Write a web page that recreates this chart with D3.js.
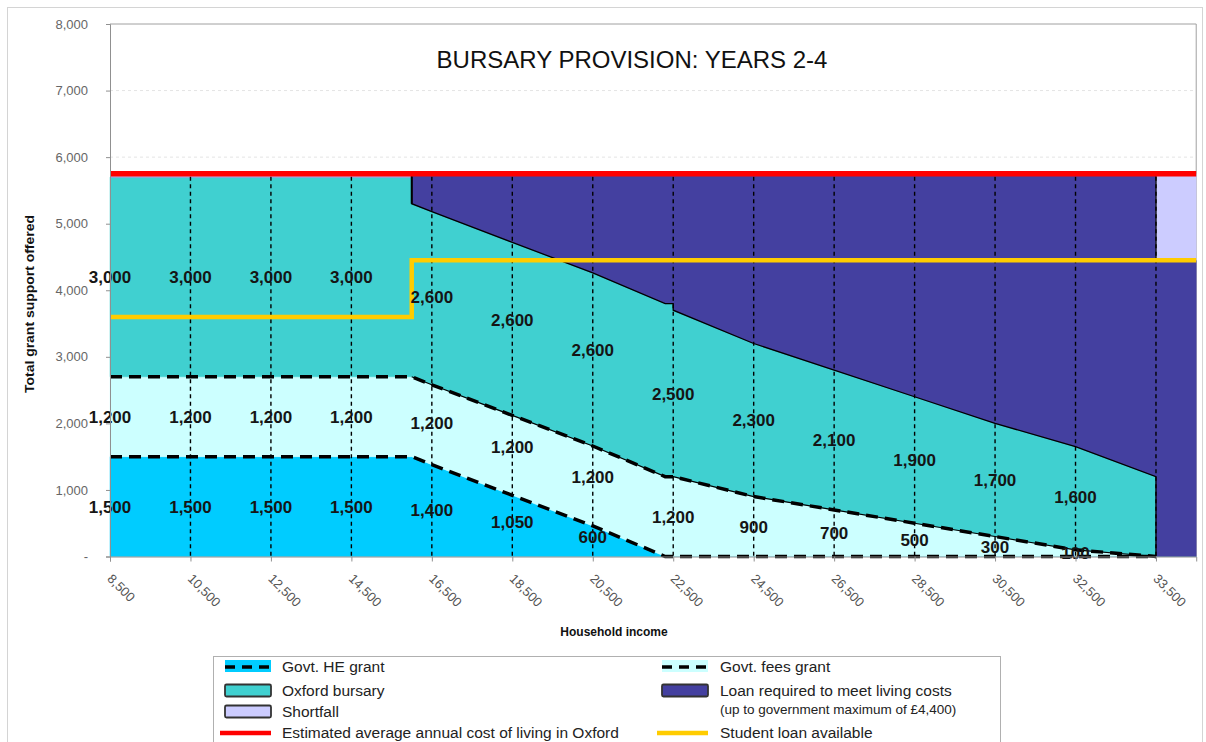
<!DOCTYPE html>
<html>
<head>
<meta charset="utf-8">
<script src="https://cdn.jsdelivr.net/npm/d3@7"></script>
<style>
  body { margin: 0; background: #fff; }
  svg { display: block; font-family: Arial, "Liberation Sans", sans-serif; }
</style>
</head>
<body>
<svg width="1206" height="742"></svg>
<script>
// category ticks on the x axis (household income)
const incomes = [8500, 10500, 12500, 14500, 16500, 18500, 20500, 22500, 24500, 26500, 28500, 30500, 32500, 33500];

// data labels printed in each band
const heLabels      = [1500, 1500, 1500, 1500, 1400, 1050, 600, null, null, null, null, null, null, null];
const feesLabels    = [1200, 1200, 1200, 1200, 1200, 1200, 1200, 1200, 900, 700, 500, 300, 100, null];
const bursaryLabels = [3000, 3000, 3000, 3000, 2600, 2600, 2600, 2500, 2300, 2100, 1900, 1700, 1600, null];

// band shapes at these incomes
const knotIncome = [8500, 16000, 16000, 16500, 18500, 20500, 22300, 22500, 22500, 24500, 26500, 28500, 30500, 32500, 33500, 33500, 34000];
const heGrant    = [1500, 1500, 1500, 1380, 920, 460, 0, 0, 0, 0, 0, 0, 0, 0, 0, 0, 0];
const feesGrant  = [1200, 1200, 1200, 1200, 1200, 1200, 1200, 1200, 1200, 900, 700, 500, 300, 100, 0, 0, 0];
const bursary    = [3000, 3000, 2600, 2600, 2600, 2600, 2600, 2600, 2500, 2300, 2100, 1900, 1700, 1550, 1200, 0, 0];
const loan       = [0, 0, 450, 570, 1030, 1490, 1950, 1950, 2050, 2550, 2950, 3350, 3750, 4100, 4550, 4450, 4450];
const shortfall  = [0, 0, 0, 0, 0, 0, 0, 0, 0, 0, 0, 0, 0, 0, 0, 1300, 1300];

// reference lines
const costOfLiving = 5750;
const loanIncome = [8500, 16000, 16000, 34000];
const loanAvailable = [3600, 3600, 4450, 4450];

const yTicks = [0, 1000, 2000, 3000, 4000, 5000, 6000, 7000, 8000];

const colors = {
  he: "#00ccff",
  fees: "#ccffff",
  bursary: "#40d0d0",
  loan: "#4440a0",
  shortfall: "#ccccff",
  red: "#ff0000",
  yellow: "#ffcc00"
};

const svg = d3.select("svg");

// outer chart frame
svg.append("rect")
  .attr("x", 7.5).attr("y", 7.5)
  .attr("width", 1195).attr("height", 760)
  .attr("fill", "none")
  .attr("stroke", "#d4d4d4");

const step = 80.46;
const x = d3.scaleLinear()
  .domain([8500, 32500, 34000])
  .range([110, 110 + 12 * step, 110 + 13.5 * step]);

const y = d3.scaleLinear()
  .domain([0, 8000])
  .range([556.5, 24]);

const plot = svg.append("g");

// faint horizontal gridlines
plot.selectAll("line.grid")
  .data(yTicks.filter(d => d > 0 && d < 8000))
  .join("line")
  .attr("class", "grid")
  .attr("x1", x(8500)).attr("x2", x(34000))
  .attr("y1", d => y(d)).attr("y2", d => y(d))
  .attr("stroke", "#e4e4e4")
  .attr("stroke-dasharray", "3,3");

// plot border (top & right)
plot.append("path")
  .attr("d", `M${x(8500)},${y(8000)}H${x(34000)}V${y(0)}`)
  .attr("fill", "none")
  .attr("stroke", "#a0a0a0");

// stacked bands
const rows = knotIncome.map((inc, i) => ({
  income: inc,
  he: heGrant[i],
  fees: feesGrant[i],
  bursary: bursary[i],
  loan: loan[i],
  shortfall: shortfall[i]
}));

const keys = ["he", "fees", "bursary", "loan", "shortfall"];
const stacked = d3.stack().keys(keys)(rows);

const area = d3.area()
  .x(d => x(d.data.income))
  .y0(d => y(d[0]))
  .y1(d => y(d[1]));

plot.selectAll("path.band")
  .data(stacked)
  .join("path")
  .attr("class", "band")
  .attr("d", area)
  .attr("fill", d => colors[d.key])
  .attr("stroke", d => colors[d.key])
  .attr("stroke-width", 0.5);

const line = d3.line()
  .x(d => x(d.data.income))
  .y(d => y(d[1]));

const heLayer = stacked[0], feesLayer = stacked[1], bursLayer = stacked[2];

// bursary outline (thin solid)
plot.append("path")
  .attr("d", line(bursLayer.slice(1, 16)))
  .attr("fill", "none").attr("stroke", "#000").attr("stroke-width", 1.3);
plot.append("path")
  .attr("d", line(feesLayer.slice(1, 15)))
  .attr("fill", "none").attr("stroke", "#000").attr("stroke-width", 1.2);

// vertical edges of loan and shortfall
const edge = (p, w) => plot.append("line")
  .attr("x1", x(p.data.income)).attr("x2", x(p.data.income))
  .attr("y1", y(p[0])).attr("y2", y(p[1]))
  .attr("stroke", "#000").attr("stroke-width", w);
edge(stacked[3][2], 2);
edge(stacked[4][15], 1.3);

// category dashed gridlines
plot.selectAll("line.vgrid")
  .data(incomes.slice(1))
  .join("line")
  .attr("class", "vgrid")
  .attr("x1", d => x(d)).attr("x2", d => x(d))
  .attr("y1", y(costOfLiving) + 3).attr("y2", y(0))
  .attr("stroke", "#000")
  .attr("stroke-width", 1.4)
  .attr("stroke-dasharray", "4,3.5");

// govt grant dashed boundaries
plot.append("path")
  .attr("d", line(heLayer.slice(0, 15)))
  .attr("fill", "none").attr("stroke", "#000")
  .attr("stroke-width", 3.5).attr("stroke-dasharray", "12,7");
plot.append("path")
  .attr("d", line(feesLayer.slice(0, 15)))
  .attr("fill", "none").attr("stroke", "#000")
  .attr("stroke-width", 3.5).attr("stroke-dasharray", "12,7");

// student loan available
plot.append("path")
  .attr("d", d3.line().x(d => x(d[0])).y(d => y(d[1]))(loanIncome.map((v, i) => [v, loanAvailable[i]])))
  .attr("fill", "none").attr("stroke", colors.yellow).attr("stroke-width", 4.5);

// cost of living
plot.append("line")
  .attr("x1", x(8500)).attr("x2", x(34000))
  .attr("y1", y(costOfLiving)).attr("y2", y(costOfLiving))
  .attr("stroke", colors.red).attr("stroke-width", 5.5);

// data labels
const labelRows = incomes.map((inc, i) => {
  const he = heLabels[i] || 0, fe = feesLabels[i] || 0, bu = bursaryLabels[i] || 0;
  return [
    { income: inc, v: heLabels[i], mid: he / 2 },
    { income: inc, v: feesLabels[i], mid: he + fe / 2 },
    { income: inc, v: bursaryLabels[i], mid: he + fe + bu / 2 }
  ];
}).flat().filter(d => d.v != null);

const fmt = d3.format(",");
plot.selectAll("text.lbl")
  .data(labelRows)
  .join("text")
  .attr("class", "lbl")
  .attr("x", d => x(d.income))
  .attr("y", d => y(d.mid))
  .attr("dy", "0.36em")
  .attr("text-anchor", "middle")
  .attr("font-size", 17)
  .attr("font-weight", "bold")
  .attr("fill", "#151515")
  .text(d => fmt(d.v));

// y axis
const yAxis = svg.append("g")
  .attr("transform", `translate(${x(8500)},0)`)
  .call(d3.axisLeft(y).tickValues(yTicks).tickSize(4).tickPadding(18)
    .tickFormat(d => d === 0 ? "-" : fmt(d)));
yAxis.select(".domain").attr("stroke", "#909090");
yAxis.selectAll(".tick line").attr("stroke", "#909090");
yAxis.selectAll("text")
  .attr("font-size", 13)
  .attr("font-family", "Arial, 'Liberation Sans', sans-serif")
  .attr("fill", "#666");

// x axis
const xAxis = svg.append("g")
  .attr("transform", `translate(0,${y(0)})`)
  .call(d3.axisBottom(x).tickValues(incomes).tickSize(5).tickFormat(fmt));
xAxis.select(".domain").attr("stroke", "#909090");
xAxis.selectAll(".tick line").attr("stroke", "#909090");
xAxis.selectAll("text")
  .attr("x", 0).attr("y", 0).attr("dy", 0)
  .attr("transform", "translate(-4,23) rotate(45)")
  .attr("text-anchor", "start")
  .attr("font-size", 13)
  .attr("font-family", "Arial, 'Liberation Sans', sans-serif")
  .attr("fill", "#555");

// titles
svg.append("text")
  .attr("x", 632).attr("y", 68)
  .attr("text-anchor", "middle")
  .attr("font-size", 24)
  .attr("fill", "#111")
  .text("BURSARY PROVISION: YEARS 2-4");

svg.append("text")
  .attr("x", 614).attr("y", 636)
  .attr("text-anchor", "middle")
  .attr("font-size", 12)
  .attr("font-weight", "bold")
  .attr("fill", "#111")
  .text("Household income");

svg.append("text")
  .attr("transform", "translate(34,304) rotate(-90)")
  .attr("text-anchor", "middle")
  .attr("font-size", 12.5)
  .attr("font-weight", "bold")
  .attr("fill", "#111")
  .attr("textLength", 178)
  .attr("lengthAdjust", "spacingAndGlyphs")
  .text("Total grant support offered");

// legend
const legendItems = [
  { label: "Govt. HE grant", kind: "dash", color: colors.he, col: 0, row: 0 },
  { label: "Govt. fees grant", kind: "dash", color: colors.fees, col: 1, row: 0 },
  { label: "Oxford bursary", kind: "box", color: colors.bursary, col: 0, row: 1 },
  { label: "Loan required to meet living costs", kind: "box", color: colors.loan, col: 1, row: 1 },
  { label: "Shortfall", kind: "box", color: colors.shortfall, col: 0, row: 2 },
  { label: "Estimated average annual cost of living in Oxford", kind: "line", color: colors.red, col: 0, row: 3 },
  { label: "Student loan available", kind: "line", color: colors.yellow, col: 1, row: 3 }
];
const colX = [225, 662];
const textX = [282, 720];
const rowY = [667, 690.5, 711.5, 733];

const legend = svg.append("g");
legend.append("rect")
  .attr("x", 213.5).attr("y", 656.5)
  .attr("width", 787).attr("height", 120)
  .attr("fill", "#fff").attr("stroke", "#b0b0b0");

const item = legend.selectAll("g.item")
  .data(legendItems)
  .join("g")
  .attr("class", "item");

item.filter(d => d.kind === "box").append("rect")
  .attr("x", d => colX[d.col]).attr("y", d => rowY[d.row] - 6)
  .attr("width", 46).attr("height", 12).attr("rx", 1.5)
  .attr("fill", d => d.color).attr("stroke", "#333").attr("stroke-width", 1.8);

item.filter(d => d.kind === "dash").append("rect")
  .attr("x", d => colX[d.col]).attr("y", d => rowY[d.row] - 7)
  .attr("width", 46).attr("height", 12)
  .attr("fill", d => d.color);
item.filter(d => d.kind === "dash").append("line")
  .attr("x1", d => colX[d.col]).attr("x2", d => colX[d.col] + 46)
  .attr("y1", d => rowY[d.row]).attr("y2", d => rowY[d.row])
  .attr("stroke", "#000").attr("stroke-width", 3.5).attr("stroke-dasharray", "10,7");

item.filter(d => d.kind === "line").append("line")
  .attr("x1", d => colX[d.col] - 5).attr("x2", d => colX[d.col] + 46)
  .attr("y1", d => rowY[d.row]).attr("y2", d => rowY[d.row])
  .attr("stroke", d => d.color).attr("stroke-width", 4.5);

item.append("text")
  .attr("x", d => textX[d.col]).attr("y", d => rowY[d.row])
  .attr("dy", "0.35em")
  .attr("font-size", 15.5)
  .attr("fill", "#222")
  .text(d => d.label);

legend.append("text")
  .attr("x", 720).attr("y", 709).attr("dy", "0.35em")
  .attr("font-size", 13.5)
  .attr("fill", "#222")
  .text("(up to government maximum of £4,400)");
</script>
</body>
</html>
